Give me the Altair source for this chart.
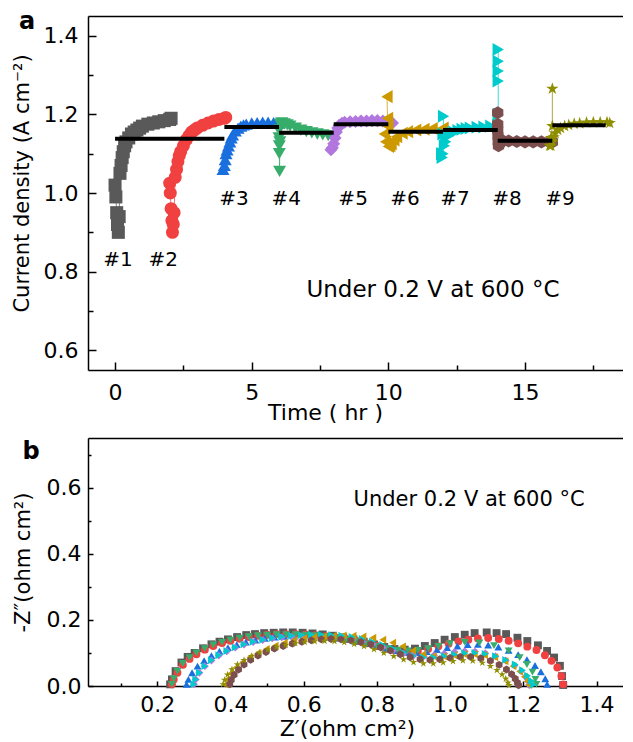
import altair as alt
import pandas as pd

FONT = "DejaVu Sans"

run_names = ["#1", "#2", "#3", "#4", "#5", "#6", "#7", "#8", "#9"]
run_colors = ["#595959", "#F14040", "#1A6FDF", "#37AD6B", "#B177DE",
              "#CC9900", "#00CBCC", "#7D4E4E", "#8E8E00"]
HEX = "M0,-1L0.866,-0.5L0.866,0.5L0,1L-0.866,0.5L-0.866,-0.5Z"
STAR = ("M0,-1L0.225,-0.309L0.951,-0.309L0.363,0.118L0.588,0.809L0,0.382"
        "L-0.588,0.809L-0.363,0.118L-0.951,-0.309L-0.225,-0.309Z")
run_shapes = ["square", "circle", "triangle-up", "triangle-down", "diamond",
              "triangle-left", "triangle-right", HEX, STAR]

# ---------------- panel a: current density vs time ----------------
t1 = [0.0, 0.03, 0.06, 0.09, 0.12, 0.15, 0.18, 0.22, 0.26, 0.3, 0.35, 0.4, 0.5, 0.6,
      0.7, 0.8, 0.9, 1.0, 1.2, 1.4, 1.6, 1.8, 2.0, 2.05]
j1 = [1.02, 0.99, 0.95, 0.92, 0.90, 0.94, 1.05, 1.07, 1.09, 1.105, 1.12, 1.13, 1.14, 1.15,
      1.155, 1.16, 1.165, 1.17, 1.175, 1.178, 1.181, 1.184, 1.187, 1.19]
t2 = [2.0, 2.02, 2.05, 2.08, 2.1, 2.13, 2.16, 2.2, 2.25, 2.3, 2.35, 2.4, 2.5, 2.6, 2.7,
      2.8, 2.9, 3.0, 3.2, 3.4, 3.6, 3.8, 4.0, 4.05]
j2 = [1.025, 1.0, 0.96, 0.93, 0.90, 0.92, 0.95, 1.04, 1.06, 1.08, 1.095, 1.105, 1.12,
      1.135, 1.145, 1.155, 1.16, 1.165, 1.172, 1.178, 1.183, 1.187, 1.19, 1.192]
t3 = [3.95, 4.0, 4.03, 4.06, 4.1, 4.15, 4.2, 4.25, 4.3, 4.4, 4.5, 4.6, 4.7, 4.8, 5.0,
      5.2, 5.4, 5.6, 5.8, 6.0]
j3 = [1.06, 1.07, 1.085, 1.1, 1.11, 1.12, 1.13, 1.14, 1.148, 1.158, 1.165, 1.17, 1.173,
      1.175, 1.178, 1.179, 1.18, 1.18, 1.179, 1.178]
t4 = [6.0, 6.0, 6.01, 6.01, 6.02, 6.03, 6.05, 6.1, 6.2, 6.3, 6.4, 6.6, 6.8, 7.0, 7.2,
      7.4, 7.6, 7.8, 8.0]
j4 = [1.16, 1.14, 1.12, 1.1, 1.055, 1.13, 1.175, 1.178, 1.176, 1.173, 1.17, 1.165, 1.16,
      1.156, 1.153, 1.15, 1.148, 1.146, 1.145]
t5 = [7.9, 7.95, 8.0, 8.05, 8.1, 8.15, 8.2, 8.3, 8.4, 8.6, 8.8, 9.0, 9.2, 9.4, 9.6, 9.8,
      10.0, 10.15]
j5 = [1.11, 1.115, 1.125, 1.14, 1.155, 1.165, 1.172, 1.177, 1.18, 1.181, 1.182, 1.183,
      1.183, 1.184, 1.184, 1.183, 1.182, 1.178]
t6 = [9.95, 9.97, 9.98, 9.85, 9.9, 10.0, 10.05, 10.1, 10.2, 10.3, 10.5, 10.7, 11.0, 11.3,
      11.6, 12.0]
j6 = [1.245, 1.19, 1.17, 1.15, 1.13, 1.118, 1.12, 1.125, 1.135, 1.143, 1.152, 1.156,
      1.16, 1.162, 1.164, 1.165]
t7 = [12.02, 12.0, 11.95, 11.97, 12.0, 12.05, 12.1, 12.2, 12.3, 12.4, 12.55, 12.7,
      12.85, 13.0, 13.25, 13.5, 13.75, 14.0, 14.02, 14.02, 14.02, 14.02, 14.02]
j7 = [1.195, 1.15, 1.1, 1.09, 1.1, 1.12, 1.13, 1.145, 1.152, 1.155, 1.159, 1.162, 1.164,
      1.165, 1.167, 1.168, 1.17, 1.172, 1.2, 1.285, 1.31, 1.335, 1.365]
t8 = [14.0, 14.0, 14.0, 14.01, 14.02, 14.03, 14.06, 14.1, 14.2, 14.4, 14.7, 15.0, 15.3,
      15.6, 15.9, 16.0]
j8 = [1.204, 1.175, 1.16, 1.145, 1.13, 1.12, 1.125, 1.13, 1.132, 1.132, 1.131, 1.13,
      1.13, 1.13, 1.13, 1.13]
t9 = [16.0, 16.0, 15.95, 15.9, 15.95, 16.0, 16.05, 16.1, 16.2, 16.3, 16.45, 16.6, 16.8,
      17.0, 17.25, 17.5, 17.75, 18.0, 18.1]
j9 = [1.265, 1.17, 1.14, 1.12, 1.12, 1.13, 1.142, 1.152, 1.16, 1.165, 1.17, 1.173, 1.176,
      1.177, 1.179, 1.18, 1.18, 1.18, 1.178]

# average-current segments (black bars)
seg_start = [0.0, 4.0, 6.0, 8.0, 10.0, 12.0, 14.0, 16.0]
seg_end = [4.0, 6.0, 8.0, 10.0, 12.0, 14.0, 16.0, 17.95]
seg_level = [1.138, 1.168, 1.153, 1.175, 1.156, 1.16, 1.133, 1.172]

# run labels
label_t = [0.11, 1.76, 4.35, 6.26, 8.71, 10.61, 12.44, 14.34, 16.28]
label_j = [0.829, 0.829, 0.984, 0.984, 0.986, 0.986, 0.986, 0.986, 0.986]

note_text = "Under 0.2 V at 600 °C"

# ---------------- panel b: impedance spectra ----------------
b1x = [0.235, 0.24, 0.25, 0.266, 0.283, 0.302, 0.325, 0.348, 0.37, 0.393, 0.418, 0.443,
       0.467, 0.492, 0.518, 0.544, 0.57, 0.597, 0.624, 0.652, 0.68, 0.708, 0.736, 0.764,
       0.792, 0.82, 0.848, 0.876, 0.904, 0.931, 0.958, 0.985, 1.013, 1.04, 1.067, 1.10,
       1.127, 1.153, 1.184, 1.211, 1.240, 1.265, 1.284, 1.30, 1.306, 1.309]
b1y = [0.005, 0.02, 0.045, 0.071, 0.088, 0.10, 0.114, 0.126, 0.134, 0.141, 0.148, 0.154,
       0.157, 0.160, 0.161, 0.162, 0.162, 0.161, 0.159, 0.156, 0.152, 0.147, 0.141, 0.134,
       0.126, 0.118, 0.112, 0.110, 0.113, 0.121, 0.130, 0.140, 0.148, 0.155, 0.160, 0.162,
       0.160, 0.157, 0.146, 0.136, 0.123, 0.106, 0.086, 0.061, 0.03, 0.003]
b2x = [0.24, 0.245, 0.255, 0.27, 0.288, 0.307, 0.33, 0.353, 0.377, 0.40, 0.425, 0.45,
       0.475, 0.50, 0.526, 0.552, 0.578, 0.605, 0.632, 0.66, 0.688, 0.716, 0.744, 0.772,
       0.80, 0.828, 0.856, 0.884, 0.912, 0.94, 0.968, 0.996, 1.023, 1.05, 1.076, 1.104,
       1.133, 1.16, 1.186, 1.211, 1.236, 1.259, 1.277, 1.293, 1.304, 1.309]
b2y = [0.005, 0.02, 0.04, 0.064, 0.082, 0.096, 0.11, 0.121, 0.13, 0.137, 0.143, 0.148,
       0.152, 0.155, 0.157, 0.157, 0.157, 0.156, 0.154, 0.151, 0.147, 0.142, 0.136, 0.129,
       0.121, 0.113, 0.107, 0.104, 0.106, 0.112, 0.12, 0.128, 0.135, 0.14, 0.144, 0.145,
       0.142, 0.137, 0.129, 0.119, 0.109, 0.093, 0.076, 0.056, 0.03, 0.005]
b3x = [0.28, 0.285, 0.295, 0.31, 0.328, 0.348, 0.37, 0.393, 0.417, 0.442, 0.468, 0.494,
       0.52, 0.547, 0.574, 0.601, 0.628, 0.656, 0.684, 0.712, 0.74, 0.768, 0.796, 0.824,
       0.852, 0.88, 0.908, 0.936, 0.964, 0.992, 1.02, 1.048, 1.076, 1.104, 1.132, 1.16,
       1.186, 1.21, 1.232, 1.248, 1.26, 1.265]
b3y = [0.005, 0.02, 0.04, 0.06, 0.077, 0.092, 0.105, 0.116, 0.125, 0.133, 0.139, 0.144,
       0.148, 0.15, 0.151, 0.151, 0.15, 0.148, 0.145, 0.141, 0.136, 0.13, 0.122, 0.114,
       0.107, 0.102, 0.101, 0.104, 0.11, 0.116, 0.121, 0.125, 0.126, 0.124, 0.118, 0.108,
       0.095, 0.08, 0.062, 0.043, 0.022, 0.005]
b4x = [0.24, 0.245, 0.255, 0.27, 0.288, 0.307, 0.33, 0.353, 0.377, 0.40, 0.425, 0.45,
       0.475, 0.50, 0.526, 0.552, 0.578, 0.605, 0.632, 0.66, 0.688, 0.716, 0.744, 0.772,
       0.80, 0.828, 0.856, 0.884, 0.912, 0.94, 0.968, 1.0, 1.04, 1.08, 1.12, 1.16, 1.19,
       1.21, 1.225, 1.233, 1.236]
b4y = [0.005, 0.022, 0.044, 0.068, 0.086, 0.1, 0.113, 0.124, 0.132, 0.139, 0.145, 0.149,
       0.152, 0.154, 0.155, 0.155, 0.155, 0.154, 0.152, 0.149, 0.145, 0.14, 0.134, 0.127,
       0.12, 0.113, 0.108, 0.106, 0.108, 0.113, 0.12, 0.128, 0.132, 0.13, 0.122, 0.106,
       0.086, 0.065, 0.042, 0.02, 0.005]
b5x = [0.30, 0.305, 0.315, 0.33, 0.348, 0.368, 0.39, 0.413, 0.437, 0.462, 0.488, 0.514,
       0.54, 0.567, 0.594, 0.621, 0.648, 0.676, 0.704, 0.732, 0.76, 0.788, 0.816, 0.844,
       0.872, 0.9, 0.928, 0.956, 0.984, 1.012, 1.04, 1.068, 1.096, 1.124, 1.152, 1.176,
       1.194, 1.206, 1.213, 1.216]
b5y = [0.005, 0.02, 0.04, 0.06, 0.077, 0.092, 0.105, 0.116, 0.125, 0.133, 0.139, 0.144,
       0.147, 0.149, 0.15, 0.15, 0.149, 0.147, 0.144, 0.139, 0.133, 0.126, 0.117, 0.107,
       0.098, 0.092, 0.09, 0.093, 0.098, 0.103, 0.105, 0.104, 0.099, 0.09, 0.077, 0.062,
       0.045, 0.028, 0.014, 0.003]
b6x = [0.385, 0.39, 0.40, 0.415, 0.433, 0.453, 0.475, 0.498, 0.522, 0.547, 0.573, 0.6,
       0.627, 0.654, 0.681, 0.708, 0.735, 0.762, 0.789, 0.816, 0.843, 0.87, 0.898, 0.926,
       0.954, 0.982, 1.01, 1.038, 1.066, 1.094, 1.122, 1.15, 1.172, 1.19, 1.203, 1.211,
       1.215]
b6y = [0.005, 0.02, 0.038, 0.056, 0.072, 0.087, 0.1, 0.112, 0.122, 0.131, 0.138, 0.144,
       0.148, 0.15, 0.152, 0.153, 0.152, 0.15, 0.146, 0.14, 0.131, 0.12, 0.107, 0.096,
       0.09, 0.09, 0.093, 0.096, 0.096, 0.093, 0.087, 0.075, 0.06, 0.044, 0.028, 0.014,
       0.003]
b7x = [0.30, 0.305, 0.315, 0.33, 0.348, 0.368, 0.39, 0.413, 0.437, 0.462, 0.488, 0.514,
       0.54, 0.567, 0.594, 0.621, 0.648, 0.676, 0.704, 0.732, 0.76, 0.788, 0.816, 0.844,
       0.872, 0.9, 0.928, 0.956, 0.984, 1.012, 1.04, 1.068, 1.096, 1.124, 1.152, 1.178,
       1.198, 1.212, 1.222, 1.228]
b7y = [0.005, 0.02, 0.04, 0.06, 0.078, 0.093, 0.106, 0.117, 0.126, 0.134, 0.14, 0.145,
       0.149, 0.152, 0.154, 0.155, 0.155, 0.154, 0.152, 0.148, 0.142, 0.134, 0.124, 0.113,
       0.101, 0.091, 0.086, 0.086, 0.09, 0.095, 0.099, 0.1, 0.097, 0.09, 0.079, 0.065,
       0.048, 0.031, 0.016, 0.004]
b8x = [0.398, 0.402, 0.41, 0.422, 0.437, 0.455, 0.475, 0.497, 0.52, 0.544, 0.569, 0.595,
       0.621, 0.648, 0.675, 0.702, 0.729, 0.756, 0.783, 0.81, 0.837, 0.864, 0.891, 0.918,
       0.945, 0.972, 1.0, 1.028, 1.056, 1.084, 1.11, 1.134, 1.154, 1.168, 1.178, 1.184,
       1.187]
b8y = [0.005, 0.018, 0.034, 0.05, 0.065, 0.079, 0.092, 0.103, 0.113, 0.121, 0.128, 0.134,
       0.138, 0.141, 0.142, 0.141, 0.138, 0.133, 0.126, 0.117, 0.107, 0.096, 0.087, 0.081,
       0.079, 0.081, 0.085, 0.088, 0.088, 0.084, 0.076, 0.064, 0.05, 0.036, 0.022, 0.01,
       0.002]
b9x = [0.38, 0.384, 0.392, 0.404, 0.419, 0.437, 0.457, 0.479, 0.502, 0.526, 0.551, 0.577,
       0.603, 0.63, 0.657, 0.684, 0.711, 0.738, 0.765, 0.792, 0.819, 0.846, 0.873, 0.9,
       0.927, 0.954, 0.981, 1.008, 1.035, 1.062, 1.088, 1.11, 1.128, 1.142, 1.152, 1.158,
       1.161]
b9y = [0.005, 0.018, 0.034, 0.05, 0.065, 0.078, 0.09, 0.101, 0.11, 0.118, 0.124, 0.129,
       0.133, 0.135, 0.136, 0.135, 0.132, 0.127, 0.12, 0.111, 0.1, 0.09, 0.08, 0.072,
       0.068, 0.068, 0.071, 0.075, 0.077, 0.076, 0.07, 0.06, 0.048, 0.035, 0.022, 0.01,
       0.002]

# ---------------- build tables ----------------
rows_a = []
for k, (ts, js) in enumerate(zip([t1, t2, t3, t4, t5, t6, t7, t8, t9],
                                 [j1, j2, j3, j4, j5, j6, j7, j8, j9])):
    assert len(ts) == len(js)
    for i, (t, j) in enumerate(zip(ts, js)):
        rows_a.append({"run": run_names[k], "t": t, "j": j, "i": k * 1000 + i})
df_a = pd.DataFrame(rows_a)
df_seg = pd.DataFrame({"t0": seg_start, "t1": seg_end, "j": seg_level})
df_lab = pd.DataFrame({"t": label_t, "j": label_j, "label": run_names})

rows_b = []
for k, (xs, ys) in enumerate(zip([b1x, b2x, b3x, b4x, b5x, b6x, b7x, b8x, b9x],
                                 [b1y, b2y, b3y, b4y, b5y, b6y, b7y, b8y, b9y])):
    assert len(xs) == len(ys)
    for i, (x, y) in enumerate(zip(xs, ys)):
        rows_b.append({"run": run_names[k], "zr": x, "zi": y, "i": k * 1000 + i})
df_b = pd.DataFrame(rows_b)

note_a = pd.DataFrame({"t": [11.63], "j": [0.753], "s": [note_text]})
note_b = pd.DataFrame({"zr": [1.052], "zi": [0.564], "s": [note_text]})

color_scale = alt.Scale(domain=run_names, range=run_colors)
shape_scale = alt.Scale(domain=run_names, range=run_shapes)


def ax(**kw):
    base = dict(grid=False, labelFont=FONT, titleFont=FONT, labelColor="black",
                titleColor="black", domainColor="black", tickColor="black",
                titleFontWeight="normal")
    base.update(kw)
    return alt.Axis(**base)


def tick_axis(orient, values, size):
    return ax(orient=orient, values=values, labels=False, domain=False, ticks=True,
              tickSize=size, tickWidth=1.5, offset=-size, title=None)


# ---------------- panel a ----------------
xa = alt.Scale(domain=[-0.99, 18.585], nice=False, zero=False)
ya = alt.Scale(domain=[0.55, 1.45], nice=False, zero=False)
W, HA, HB = 535, 354, 248

main_xa = ax(orient="bottom", values=[0, 5, 10, 15], format="d", ticks=False, tickSize=0,
             domainWidth=1.5, labelFontSize=22, labelPadding=12, title="Time ( hr )",
             titleFontSize=22, titleX=237, titleY=42, titleBaseline="middle",
             titleAlign="center")
main_ya = ax(orient="left", values=[0.6, 0.8, 1.0, 1.2, 1.4], format=".1f", ticks=False,
             tickSize=0, domainWidth=1.5, labelFontSize=22, labelPadding=10,
             title="Current density (A cm⁻²)", titleFontSize=21, titleX=-66, titleY=167,
             titleBaseline="middle", titleAlign="center", titleAngle=270)

line_a = alt.Chart(df_a).mark_line(strokeWidth=1, opacity=0.75).encode(
    x=alt.X("t:Q", scale=xa, axis=main_xa),
    y=alt.Y("j:Q", scale=ya, axis=main_ya),
    color=alt.Color("run:N", scale=color_scale, legend=None),
    detail="run:N",
    order="i:Q",
)
pts_a = alt.Chart(df_a).mark_point(filled=True, size=170, opacity=1).encode(
    x=alt.X("t:Q", scale=xa, axis=None),
    y=alt.Y("j:Q", scale=ya, axis=None),
    color=alt.Color("run:N", scale=color_scale, legend=None),
    shape=alt.Shape("run:N", scale=shape_scale, legend=None),
)
seg_a = alt.Chart(df_seg).mark_rule(color="black", strokeWidth=4).encode(
    x=alt.X("t0:Q", scale=xa, axis=tick_axis("bottom", [0, 5, 10, 15], 8)),
    x2="t1:Q",
    y=alt.Y("j:Q", scale=ya, axis=tick_axis("left", [0.6, 0.8, 1.0, 1.2, 1.4], 8)),
)
lab_a = alt.Chart(df_lab).mark_text(font=FONT, fontSize=20, color="black").encode(
    x=alt.X("t:Q", scale=xa, axis=tick_axis("bottom", [2.5, 7.5, 12.5, 17.5], 5)),
    y=alt.Y("j:Q", scale=ya, axis=tick_axis("left", [0.7, 0.9, 1.1, 1.3], 5)),
    text="label:N",
)
txt_a = alt.Chart(note_a).mark_text(font=FONT, fontSize=23, color="black").encode(
    x=alt.X("t:Q", scale=xa, axis=ax(orient="top", labels=False, ticks=False,
                                     domainWidth=1.5, title=None)),
    y=alt.Y("j:Q", scale=ya, axis=None),
    text="s:N",
)
letter_a = alt.Chart(pd.DataFrame({"s": ["a"]})).mark_text(
    font=FONT, fontSize=24, fontWeight="bold", color="black", align="center",
    baseline="top").encode(x=alt.value(-61), y=alt.value(-6), text="s:N")

panel_a = alt.layer(line_a, pts_a, seg_a, lab_a, txt_a, letter_a).resolve_axis(
    x="independent", y="independent").properties(width=W, height=HA)

# ---------------- panel b ----------------
xb = alt.Scale(domain=[0.0107, 1.4724], nice=False, zero=False)
yb = alt.Scale(domain=[0, 0.75], nice=False, zero=False)

main_xb = ax(orient="bottom", values=[0.2, 0.4, 0.6, 0.8, 1.0, 1.2, 1.4], format=".1f",
             ticks=False, tickSize=0, domainWidth=1.5, labelFontSize=22, labelPadding=8,
             title="Z′(ohm cm²)", titleFontSize=22, titleX=259, titleY=42,
             titleBaseline="middle", titleAlign="center")
main_yb = ax(orient="left", values=[0.0, 0.2, 0.4, 0.6], format=".1f", ticks=False,
             tickSize=0, domainWidth=1.5, labelFontSize=22, labelPadding=7,
             title="-Z″(ohm cm²)", titleFontSize=21, titleX=-65, titleY=124,
             titleBaseline="middle", titleAlign="center", titleAngle=270)

pts_b = alt.Chart(df_b).mark_point(filled=True, size=62, opacity=1).encode(
    x=alt.X("zr:Q", scale=xb, axis=main_xb),
    y=alt.Y("zi:Q", scale=yb, axis=main_yb),
    color=alt.Color("run:N", scale=color_scale, legend=None),
    shape=alt.Shape("run:N", scale=shape_scale, legend=None),
)
txt_b = alt.Chart(note_b).mark_text(font=FONT, fontSize=21, color="black").encode(
    x=alt.X("zr:Q", scale=xb,
            axis=tick_axis("bottom", [0.2, 0.4, 0.6, 0.8, 1.0, 1.2, 1.4], 5)),
    y=alt.Y("zi:Q", scale=yb, axis=tick_axis("left", [0.0, 0.2, 0.4, 0.6], 5)),
    text="s:N",
)
minor_b = alt.Chart(note_b).mark_point(opacity=0).encode(
    x=alt.X("zr:Q", scale=xb,
            axis=tick_axis("bottom", [0.1, 0.3, 0.5, 0.7, 0.9, 1.1, 1.3], 3)),
    y=alt.Y("zi:Q", scale=yb, axis=tick_axis("left", [0.1, 0.3, 0.5, 0.7], 3)),
)
frame_b = alt.Chart(note_b).mark_point(opacity=0).encode(
    x=alt.X("zr:Q", scale=xb, axis=ax(orient="top", labels=False, ticks=False,
                                      domainWidth=1.5, title=None)),
    y=alt.Y("zi:Q", scale=yb, axis=None),
)
letter_b = alt.Chart(pd.DataFrame({"s": ["b"]})).mark_text(
    font=FONT, fontSize=24, fontWeight="bold", color="black", align="center",
    baseline="middle").encode(x=alt.value(-57), y=alt.value(14), text="s:N")

panel_b = alt.layer(pts_b, txt_b, minor_b, frame_b, letter_b).resolve_axis(
    x="independent", y="independent").properties(width=W, height=HB)

chart = alt.vconcat(panel_a, panel_b, spacing=68, bounds="flush").properties(
    padding={"left": 3, "top": 2, "right": 0, "bottom": 0}
).configure_view(stroke=None)

chart.save("out.html", embed_options={"renderer": "svg", "actions": False})
